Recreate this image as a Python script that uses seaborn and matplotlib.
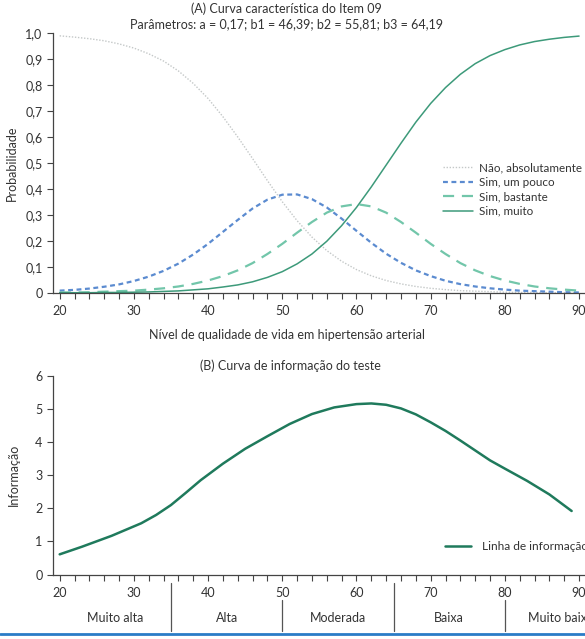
import matplotlib
matplotlib.use("Agg")
import matplotlib.pyplot as plt
from matplotlib.lines import Line2D
from matplotlib.ticker import MultipleLocator, FuncFormatter
import seaborn as sns
import pandas as pd

# ── Data ──
theta = [20, 22, 24, 26, 28, 30, 32, 34, 36, 38, 40, 42, 44, 46, 48, 50, 52, 54,
         56, 58, 60, 62, 64, 66, 68, 70, 72, 74, 76, 78, 80, 82, 84, 86, 88, 90]

nao = [0.989, 0.984, 0.978, 0.970, 0.958, 0.942, 0.920, 0.892, 0.854, 0.806,
       0.748, 0.678, 0.600, 0.517, 0.432, 0.351, 0.278, 0.215, 0.163, 0.122,
       0.090, 0.066, 0.048, 0.035, 0.025, 0.018, 0.013, 0.009, 0.007, 0.005,
       0.003, 0.002, 0.002, 0.001, 0.001, 0.001]
um_pouco = [0.009, 0.012, 0.017, 0.024, 0.033, 0.046, 0.063, 0.085, 0.113, 0.148,
            0.189, 0.235, 0.281, 0.325, 0.359, 0.378, 0.379, 0.361, 0.329, 0.286,
            0.239, 0.193, 0.151, 0.116, 0.087, 0.065, 0.047, 0.034, 0.025, 0.018,
            0.013, 0.009, 0.007, 0.005, 0.003, 0.002]
bastante = [0.002, 0.002, 0.003, 0.005, 0.007, 0.009, 0.013, 0.018, 0.025, 0.035,
            0.048, 0.065, 0.087, 0.115, 0.150, 0.189, 0.232, 0.273, 0.309, 0.333,
            0.342, 0.333, 0.309, 0.273, 0.232, 0.189, 0.150, 0.115, 0.087, 0.065,
            0.048, 0.035, 0.025, 0.018, 0.013, 0.009]
muito = [0.001, 0.001, 0.001, 0.002, 0.002, 0.003, 0.004, 0.006, 0.008, 0.012,
         0.016, 0.023, 0.031, 0.043, 0.060, 0.082, 0.112, 0.150, 0.199, 0.259,
         0.329, 0.408, 0.492, 0.576, 0.657, 0.729, 0.790, 0.841, 0.882, 0.913,
         0.936, 0.954, 0.967, 0.976, 0.983, 0.988]

info_x = [20, 23, 27, 31, 33, 35, 37, 39, 42, 45, 48, 51, 54, 57, 60, 62, 64,
          66, 68, 70, 72, 74, 76, 78, 80, 83, 86, 89]
info_y = [0.61, 0.84, 1.17, 1.55, 1.80, 2.10, 2.47, 2.85, 3.35, 3.80, 4.18, 4.55,
          4.85, 5.05, 5.15, 5.17, 5.13, 5.02, 4.84, 4.60, 4.34, 4.05, 3.75, 3.45,
          3.20, 2.83, 2.42, 1.92]

band_names = ["Muito alta", "Alta", "Moderada", "Baixa", "Muito baixa"]
band_edges = [20, 35, 50, 65, 80, 95]

labels = ["Não, absolutamente", "Sim, um pouco", "Sim, bastante", "Sim, muito"]

df = pd.DataFrame({"theta": theta, labels[0]: nao, labels[1]: um_pouco,
                   labels[2]: bastante, labels[3]: muito})

sns.set_style("ticks")
plt.rcParams["font.family"] = ["Lato", "DejaVu Sans"]
plt.rcParams["font.size"] = 9
TXT = "#333333"

fig = plt.figure(figsize=(5.85, 6.39), dpi=100)
ax1 = fig.add_axes([0.0906, 0.5415, 0.9094, 0.4069])
ax2 = fig.add_axes([0.0906, 0.1009, 0.9094, 0.3107])

# ── (A) item characteristic curves ──
styles = {
    labels[0]: dict(color="#c4c8c8", lw=1.0, dashes=(1, 1.2)),
    labels[1]: dict(color="#5b8bd0", lw=1.6, dashes=(2.2, 1.6)),
    labels[2]: dict(color="#72c6aa", lw=1.6, dashes=(5, 3.5)),
    labels[3]: dict(color="#3d9a7a", lw=1.1, dashes=None),
}
handles = []
for name in labels:
    st = styles[name]
    sns.lineplot(data=df, x="theta", y=name, ax=ax1, color=st["color"], lw=st["lw"])
    line = ax1.lines[-1]
    if st["dashes"]:
        line.set_dashes(st["dashes"])
    h = Line2D([], [], color=st["color"], lw=st["lw"])
    if st["dashes"]:
        h.set_dashes(st["dashes"])
    handles.append(h)

ax1.set_xlim(19.1, 90.8)
ax1.set_ylim(0, 1.0)
ax1.yaxis.set_major_locator(MultipleLocator(0.1))
ax1.yaxis.set_major_formatter(
    FuncFormatter(lambda v, p: "0" if abs(v) < 1e-9 else f"{v:.1f}".replace(".", ",")))
ax1.set_ylabel("Probabilidade", color=TXT, fontsize=9)
ax1.yaxis.set_label_coords(-0.066, 0.5)
ax1.set_xlabel("Nível de qualidade de vida em hipertensão arterial", color=TXT, fontsize=9)
ax1.xaxis.set_label_coords(0.44, -0.14)
ax1.legend(handles, labels, loc="upper left", bbox_to_anchor=(0.722, 0.525),
           frameon=False, fontsize=8.4, handlelength=2.6, handletextpad=0.5,
           labelspacing=0.3, borderpad=0, labelcolor=TXT)
fig.text(0.489, 0.987, "(A) Curva característica do Item 09", ha="center", va="center",
         fontsize=9, color=TXT)
fig.text(0.489, 0.962, "Parâmetros: a = 0,17; b1 = 46,39; b2 = 55,81; b3 = 64,19",
         ha="center", va="center", fontsize=9, color=TXT)

# ── (B) test information ──
sns.lineplot(x=info_x, y=info_y, ax=ax2, color="#1f7a5c", lw=1.8,
             label="Linha de informação")
ax2.set_xlim(19.1, 90.8)
ax2.set_ylim(0, 6)
ax2.yaxis.set_major_locator(MultipleLocator(1))
ax2.set_ylabel("Informação", color=TXT, fontsize=9)
ax2.yaxis.set_label_coords(-0.062, 0.5)
ax2.set_xlabel("")
ax2.legend(loc="upper left", bbox_to_anchor=(0.725, 0.2), frameon=False, fontsize=8.6,
           handlelength=2.2, handletextpad=0.9, borderpad=0, labelcolor=TXT)
fig.text(0.497, 0.427, "(B) Curva de informação do teste", ha="center", va="center",
         fontsize=9, color=TXT)

for ax in (ax1, ax2):
    ax.xaxis.set_major_locator(MultipleLocator(10))
    ax.xaxis.set_minor_locator(MultipleLocator(2))
    ax.tick_params(which="both", direction="out", length=4, width=0.8, color="#444444",
                   labelcolor=TXT, labelsize=9)
    ax.tick_params(axis="x", which="major", pad=5)
    for s in ("top", "right"):
        ax.spines[s].set_visible(False)
    for s in ("left", "bottom"):
        ax.spines[s].set_color("#444444")
        ax.spines[s].set_linewidth(0.9)

# quality-of-life bands below panel B
tr = ax2.get_xaxis_transform()
for i, name in enumerate(band_names):
    mid = (band_edges[i] + band_edges[i + 1]) / 2
    ax2.text(mid, -0.22, name, transform=tr, ha="center", va="center",
             fontsize=9, color=TXT, clip_on=False)
for i, edge in enumerate(band_edges[1:-1]):
    top = -0.045 if i % 2 == 0 else -0.13
    ax2.plot([edge, edge], [top, -0.285], transform=tr, color="#555555", lw=0.9,
             clip_on=False)

fig.add_artist(Line2D([0, 1], [0.0078, 0.0078], transform=fig.transFigure,
                      color="#2a7cc7", lw=2))

plt.savefig("out.png", dpi=100)
